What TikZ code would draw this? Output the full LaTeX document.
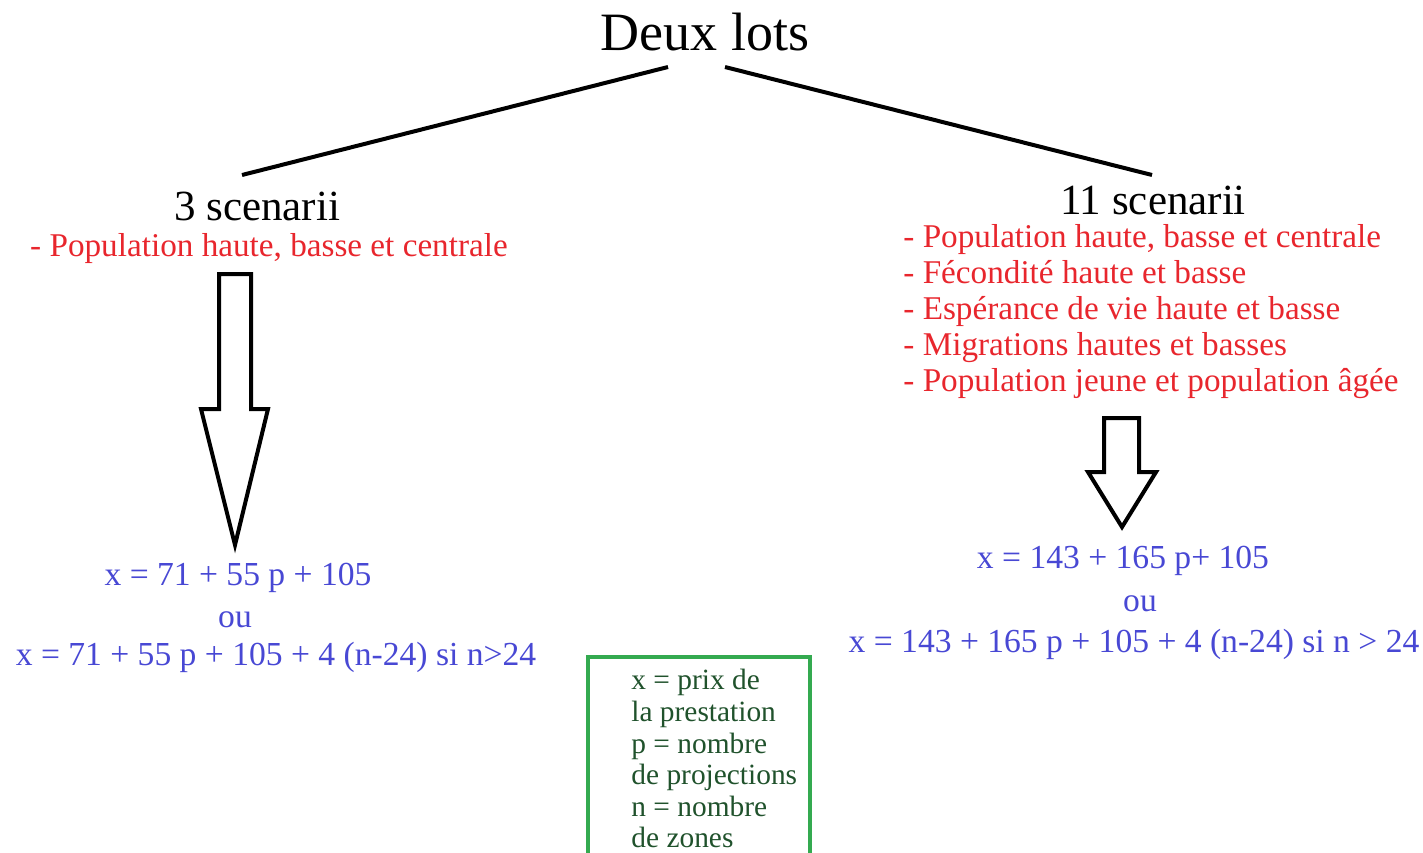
\documentclass[tikz,border=0pt]{standalone}
\usepackage{fontspec}
\setmainfont{Liberation Serif}
\usetikzlibrary{positioning,calc}

\definecolor{scenred}{RGB}{232,38,45}
\definecolor{eqblue}{RGB}{72,72,212}
\definecolor{legframe}{RGB}{52,170,80}
\definecolor{legtext}{RGB}{32,82,44}
\newcommand{\fsz}[2]{\fontsize{#1}{#2}\selectfont}

\begin{document}
\begin{tikzpicture}[x=0.5pt,y=-0.5pt]
	\tikzset{lbl/.style={inner sep=0pt, anchor=base},
		scen/.style={lbl, font=\fsz{21.5}{26}},
		crit/.style={lbl, text=scenred, font=\fsz{16.6}{18}},
		eq/.style={lbl, text=eqblue, font=\fsz{16.8}{20}},
		legend/.style={inner sep=0pt, anchor=north west, align=left, text=legtext, font=\fsz{14.7}{15.8}},
		branch/.style={line width=2pt},
		hollow/.style={line width=2pt, line join=miter, fill=white}}
	\useasboundingbox (0,0) rectangle (1423,852);

	% titre et branches
	\node[lbl, font=\fsz{27}{32}] (title) at (705,50) {Deux lots};
	\node[scen] (scenA) at (257,220) {3 scenarii};
	\node[scen] (scenB) at (1153,214) {11 scenarii};
	\coordinate (forkA) at (668,67);
	\coordinate (forkB) at (725,67);
	\coordinate (endA) at (242,175);
	\coordinate (endB) at (1152,175);
	\draw[branch] (forkA) -- (endA);
	\draw[branch] (forkB) -- (endB);

	% criteres
	\node[crit] (critA) at (269,256) {- Population haute, basse et centrale};
	\node[crit, anchor=north west, align=left] (critB) at (903,224)
		{- Population haute, basse et centrale\\
		 - Fécondité haute et basse\\
		 - Espérance de vie haute et basse\\
		 - Migrations hautes et basses\\
		 - Population jeune et population âgée};

	% fleches creuses
	\coordinate (arrA) at (235,274);
	\coordinate (arrB) at (1121.5,418);
	\draw[hollow] (arrA) ++(-16,0) -- ++(32,0) -- ++(0,135) -- ++(17,0)
		-- (235,545) -- (201,409) -- ++(18,0) -- cycle;
	\draw[hollow] (arrB) ++(-17.5,0) -- ++(35,0) -- ++(0,54) -- ++(17,0)
		-- (1122,527) -- (1088,472) -- ++(16,0) -- cycle;

	% formules
	\node[eq] (eqA1) at (238,585) {x = 71 + 55 p + 105};
	\node[eq] (ouA) at (235,627) {ou};
	\node[eq] (eqA2) at (276,665) {x = 71 + 55 p + 105 + 4 (n-24) si n>24};
	\node[eq] (eqB1) at (1123,568) {x = 143 + 165 p+ 105};
	\node[eq] (ouB) at (1140,611) {ou};
	\node[eq] (eqB2) at (1134,652) {x = 143 + 165 p + 105 + 4 (n-24) si n > 24};

	% legende
	\draw[line width=2pt, legframe] (588,870) -- (588,657) -- (810,657) -- (810,870);
	\node[legend] (legend) at (631,669)
		{x = prix de\\la prestation\\p = nombre\\de projections\\n = nombre\\de zones};
\end{tikzpicture}
\end{document}
